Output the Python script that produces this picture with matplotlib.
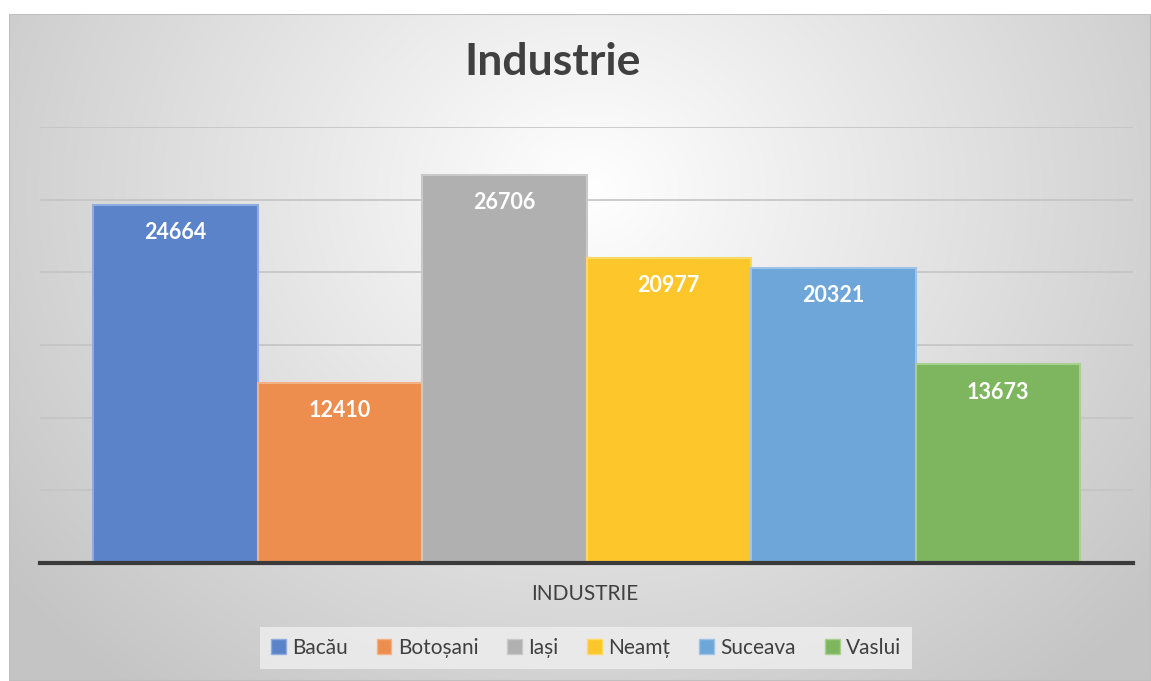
import numpy as np
import matplotlib
matplotlib.use("Agg")
import matplotlib.pyplot as plt
from matplotlib.patches import Patch

# data
judete = ["Bacău", "Botoșani", "Iași", "Neamț", "Suceava", "Vaslui"]
valori = [24664, 12410, 26706, 20977, 20321, 13673]
culori = ["#5B83C9", "#ED8E4E", "#B0B0B0", "#FDC72C", "#6FA6D9", "#7EB660"]
contur = ["#8FACDF", "#F4B183", "#C9C9C9", "#FFD966", "#9DC3E6", "#A9D18E"]
y_ticks = [0, 5000, 10000, 15000, 20000, 25000, 30000]

plt.rcParams['font.family'] = ['Lato', 'DejaVu Sans']

W, H = 1151, 681
fig = plt.figure(figsize=(W / 100, H / 100), dpi=100)
fig.patch.set_facecolor("white")

# radial gradient background of the chart area
bg = fig.add_axes([9 / W, 0, 1 - 9 / W, (H - 14) / H])
bg.set_axis_off()
xx, yy = np.meshgrid(np.arange(9, W), np.arange(14, H))
r = np.sqrt(((xx - 590) / 640.0) ** 2 + ((yy - 190) / 560.0) ** 2)
g = 1.0 - 0.23 * np.clip(r, 0, 1.15) / 1.15
bg.imshow(np.dstack([g, g, g]), aspect="auto", interpolation="bilinear")
bg.add_patch(plt.Rectangle((0, 0), 1, 1, transform=bg.transAxes, fill=False,
                           edgecolor="#bfbfbf", lw=1.5))

ax = fig.add_axes([40 / W, (H - 563) / H, (1133 - 40) / W, (563 - 127) / H])
ax.patch.set_alpha(0)

x = np.arange(len(valori))
bars = ax.bar(x, valori, width=1.0, color=culori, edgecolor=contur, linewidth=1.5, zorder=3)
for xi, v in zip(x, valori):
    ax.annotate(str(v), xy=(xi, v), xytext=(0, -20), textcoords="offset points",
                ha="center", va="center", color="white", fontsize=15.5, fontweight="bold", zorder=4)

gap = 53 / 164.5
ax.set_xlim(-0.5 - gap, len(valori) - 0.5 + gap)
ax.set_ylim(0, 30000)
ax.set_yticks(y_ticks)
ax.yaxis.grid(True, color="#c4c4c4", linewidth=1.2, zorder=0)
ax.set_axisbelow(True)
ax.tick_params(left=False, bottom=False, labelleft=False, labelbottom=False)
for s in ["top", "right", "left"]:
    ax.spines[s].set_visible(False)
ax.spines["bottom"].set_color("#3a3a3a")
ax.spines["bottom"].set_linewidth(3)
ax.spines["bottom"].set_zorder(5)

fig.text(553 / W, 1 - 62 / H, "Industrie", ha="center", va="center",
         fontsize=32, fontweight="bold", color="#404040")
fig.text(585 / W, 1 - 594 / H, "INDUSTRIE", ha="center", va="center",
         fontsize=15, color="#404040")

handles = [Patch(facecolor=c, edgecolor=e, linewidth=1) for c, e in zip(culori, contur)]
leg = fig.legend(handles, judete, loc="center", bbox_to_anchor=(586 / W, 1 - 648 / H),
                 ncol=6, frameon=True, fontsize=15, handlelength=0.7, handleheight=0.7,
                 handletextpad=0.3, columnspacing=1.4, borderpad=0.55, fancybox=False)
leg.get_frame().set_facecolor("#efefef")
leg.get_frame().set_edgecolor("none")
leg.get_frame().set_alpha(0.8)
for t in leg.get_texts():
    t.set_color("#404040")

fig.savefig("out.png", dpi=100)
